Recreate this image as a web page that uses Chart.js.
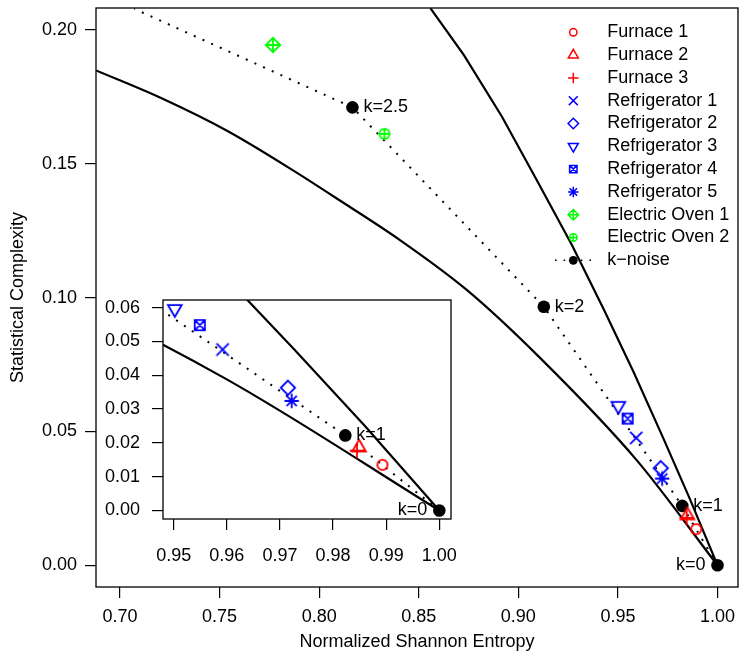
<!DOCTYPE html>
<html>
<head>
<meta charset="utf-8">
<script src="https://cdn.jsdelivr.net/npm/chart.js@4.4.1/dist/chart.umd.min.js"></script>
<style>
  html, body { margin: 0; padding: 0; background: #fff; }
  #wrap { position: relative; width: 739px; height: 659px; }
  #main { position: absolute; left: 0; top: 0; }
  #inset { position: absolute; left: 96px; top: 290px; }
</style>
</head>
<body>
<div id="wrap">
  <canvas id="main" width="739" height="659"></canvas>
  <canvas id="inset" width="370" height="280"></canvas>
</div>
<script>
// Axis ticks
const entropyTicks = [0.70, 0.75, 0.80, 0.85, 0.90, 0.95, 1.00];
const complexityTicks = [0.00, 0.05, 0.10, 0.15, 0.20];
const zoomEntropyTicks = [0.95, 0.96, 0.97, 0.98, 0.99, 1.00];
const zoomComplexityTicks = [0.00, 0.01, 0.02, 0.03, 0.04, 0.05, 0.06];

// Appliance positions in the complexity-entropy plane
const applianceNames = ['Furnace 1', 'Furnace 2', 'Furnace 3',
  'Refrigerator 1', 'Refrigerator 2', 'Refrigerator 3', 'Refrigerator 4', 'Refrigerator 5',
  'Electric Oven 1', 'Electric Oven 2'];
const applianceEntropy = [0.9893, 0.9849, 0.9845, 0.9592, 0.9715, 0.9502, 0.9549, 0.9722, 0.7768, 0.8328];
const applianceComplexity = [0.0135, 0.0186, 0.0177, 0.0476, 0.0363, 0.0596, 0.0548, 0.0324, 0.1944, 0.1612];

// R plotting symbols and colours per appliance
const applianceSymbols = [1, 2, 3, 4, 5, 6, 7, 8, 9, 10];
const applianceColors = ['#ff0000', '#ff0000', '#ff0000',
  '#0000ff', '#0000ff', '#0000ff', '#0000ff', '#0000ff', '#00ff00', '#00ff00'];

// k-noise reference path (last vertex has no marker)
const kLabels = ['k=0', 'k=1', 'k=2', 'k=2.5'];
const kEntropy = [1.0000, 0.9823, 0.9128, 0.8167, 0.7072];
const kComplexity = [0.0000, 0.0222, 0.0966, 0.1711, 0.2079];

// Minimum and maximum complexity bounds
const minEntropy = [0.6880, 0.7209, 0.7544, 0.7879, 0.8079, 0.8406, 0.8741, 0.9109, 0.9594, 1.0000];
const minComplexity = [0.1849, 0.1745, 0.1621, 0.1471, 0.1375, 0.1215, 0.1029, 0.0775, 0.0393, 0.0000];
const maxEntropy = [0.8559, 0.8726, 0.8918, 0.9097, 0.9269, 0.9428, 0.9578, 0.9727, 0.9860, 1.0000];
const maxComplexity = [0.2081, 0.1907, 0.1676, 0.1433, 0.1197, 0.0958, 0.0723, 0.0476, 0.0250, 0.0000];

const FONT = "'Liberation Sans', Arial, Helvetica, sans-serif";
const DATA_UNIT = 5.1;
const LEGEND_UNIT = 3.7;

function toPoints(xs, ys) {
  return ys.map((y, i) => ({ x: xs[i], y }));
}

// R-style point symbols (pch 1-10)
function drawSymbol(ctx, pch, x, y, u, color, lw) {
  const d = Math.SQRT2 * u;
  const r = 1.5551 * u, tx = 1.3468 * u, ty = 0.7776 * u;
  ctx.save();
  ctx.strokeStyle = color;
  ctx.fillStyle = color;
  ctx.lineWidth = lw;
  ctx.beginPath();
  const plus = (a) => { ctx.moveTo(x - a, y); ctx.lineTo(x + a, y); ctx.moveTo(x, y - a); ctx.lineTo(x, y + a); };
  const times = (a) => { ctx.moveTo(x - a, y - a); ctx.lineTo(x + a, y + a); ctx.moveTo(x - a, y + a); ctx.lineTo(x + a, y - a); };
  const diamond = (a) => { ctx.moveTo(x, y - a); ctx.lineTo(x + a, y); ctx.lineTo(x, y + a); ctx.lineTo(x - a, y); ctx.closePath(); };
  switch (pch) {
    case 1: ctx.arc(x, y, u, 0, 2 * Math.PI); break;
    case 2: ctx.moveTo(x, y - r); ctx.lineTo(x + tx, y + ty); ctx.lineTo(x - tx, y + ty); ctx.closePath(); break;
    case 3: plus(d); break;
    case 4: times(1.2 * u); break;
    case 5: diamond(d); break;
    case 6: ctx.moveTo(x, y + r); ctx.lineTo(x + tx, y - ty); ctx.lineTo(x - tx, y - ty); ctx.closePath(); break;
    case 7: ctx.rect(x - u, y - u, 2 * u, 2 * u); times(u); break;
    case 8: times(u); plus(d); break;
    case 9: diamond(d); plus(d); break;
    case 10: ctx.arc(x, y, u, 0, 2 * Math.PI); ctx.moveTo(x - u, y); ctx.lineTo(x + u, y); ctx.moveTo(x, y - u); ctx.lineTo(x, y + u); break;
  }
  ctx.stroke();
  ctx.restore();
}

function symbolImage(pch, color, u) {
  const size = 2 * Math.ceil(1.6 * u + 3);
  const c = document.createElement('canvas');
  c.width = size;
  c.height = size;
  drawSymbol(c.getContext('2d'), pch, size / 2, size / 2, u, color, 1.8);
  return c;
}

function buildDatasets() {
  const sets = applianceNames.map((name, i) => ({
    label: name,
    data: [{ x: applianceEntropy[i], y: applianceComplexity[i] }],
    showLine: false,
    pointStyle: symbolImage(applianceSymbols[i], applianceColors[i], DATA_UNIT),
    pointRadius: 5,
  }));
  sets.push({
    label: 'k\u2212noise',
    isNoise: true,
    data: toPoints(kEntropy, kComplexity),
    showLine: true,
    borderColor: '#000',
    borderWidth: 2,
    borderDash: [2, 7.5],
    pointStyle: 'circle',
    pointRadius: kEntropy.map((_, i) => (i < kLabels.length ? 6.3 : 0)),
    pointBackgroundColor: '#000',
    pointBorderWidth: 0,
  });
  sets.push({
    label: 'min',
    data: toPoints(minEntropy, minComplexity),
    showLine: true,
    borderColor: '#000',
    borderWidth: 2.2,
    cubicInterpolationMode: 'monotone',
    pointRadius: 0,
  });
  sets.push({
    label: 'max',
    data: toPoints(maxEntropy, maxComplexity),
    showLine: true,
    borderColor: '#000',
    borderWidth: 2.2,
    tension: 0,
    pointRadius: 0,
  });
  return sets;
}

// Frame around the plotting region
const boxPlugin = {
  id: 'box',
  afterDatasetsDraw(chart) {
    const { ctx, chartArea: a } = chart;
    ctx.save();
    ctx.strokeStyle = '#000';
    ctx.lineWidth = 1.3;
    ctx.strokeRect(a.left, a.top, a.right - a.left, a.bottom - a.top);
    ctx.restore();
  },
};

// k value labels beside the noise points
const kLabelPlugin = {
  id: 'kLabels',
  afterDatasetsDraw(chart) {
    const idx = chart.data.datasets.findIndex(ds => ds.isNoise);
    const meta = chart.getDatasetMeta(idx);
    const { ctx, chartArea: a } = chart;
    ctx.save();
    ctx.font = '18px ' + FONT;
    ctx.fillStyle = '#000';
    ctx.textBaseline = 'middle';
    kLabels.forEach((txt, i) => {
      const pt = meta.data[i];
      if (pt.x < a.left || pt.x > a.right || pt.y < a.top || pt.y > a.bottom) return;
      if (i === 0) {
        ctx.textAlign = 'right';
        ctx.fillText(txt, pt.x - 12, pt.y);
      } else {
        ctx.textAlign = 'left';
        ctx.fillText(txt, pt.x + 11, pt.y);
      }
    });
    ctx.restore();
  },
};

// Legend in the upper right corner
const legendPlugin = {
  id: 'rLegend',
  afterDraw(chart) {
    const ctx = chart.ctx;
    const symX = 573.3, textX = 607.3, rowY = 32.3, step = 22.8;
    ctx.save();
    ctx.font = '18px ' + FONT;
    ctx.fillStyle = '#000';
    ctx.textBaseline = 'middle';
    ctx.textAlign = 'left';
    applianceNames.forEach((name, i) => {
      const y = rowY + i * step;
      drawSymbol(ctx, applianceSymbols[i], symX, y, LEGEND_UNIT, applianceColors[i], 1.5);
      ctx.fillText(name, textX, y);
    });
    const y = rowY + applianceNames.length * step;
    ctx.save();
    ctx.strokeStyle = '#000';
    ctx.lineWidth = 1.6;
    ctx.setLineDash([1.6, 7]);
    ctx.beginPath();
    ctx.moveTo(555, y);
    ctx.lineTo(592, y);
    ctx.stroke();
    ctx.restore();
    ctx.beginPath();
    ctx.arc(symX, y, 4.4, 0, 2 * Math.PI);
    ctx.fill();
    ctx.fillText('k\u2212noise', textX, y);
    ctx.restore();
  },
};

const whiteBg = {
  id: 'whiteBg',
  beforeDraw(chart) {
    const ctx = chart.ctx;
    ctx.save();
    ctx.fillStyle = '#fff';
    ctx.fillRect(0, 0, chart.width, chart.height);
    ctx.restore();
  },
};

function axis(opts) {
  const scale = {
    type: 'linear',
    min: opts.min,
    max: opts.max,
    afterBuildTicks: (s) => { s.ticks = opts.ticks.map(v => ({ value: v })); },
    afterFit: (s) => {
      // fixed axis size, and no extra room reserved for edge labels
      if (opts.width !== undefined) s.width = opts.width;
      if (opts.height !== undefined) s.height = opts.height;
      s.paddingTop = 0;
      s.paddingBottom = 0;
      s.paddingLeft = 0;
      s.paddingRight = 0;
    },
    ticks: {
      autoSkip: false,
      maxRotation: 0,
      minRotation: 0,
      padding: opts.padding,
      color: '#000',
      font: { family: FONT, size: 18 },
      callback: (v) => Number(v).toFixed(2),
    },
    grid: {
      drawOnChartArea: false,
      drawTicks: true,
      tickLength: 11,
      color: '#000',
      lineWidth: 1.2,
    },
    border: { display: false },
  };
  if (opts.title) {
    scale.title = {
      display: true,
      text: opts.title,
      color: '#000',
      font: { family: FONT, size: 18 },
      padding: opts.titlePadding,
    };
  }
  return scale;
}

new Chart(document.getElementById('main'), {
  type: 'scatter',
  data: { datasets: buildDatasets() },
  options: {
    responsive: false,
    animation: false,
    events: [],
    layout: { autoPadding: false, padding: { left: 0, top: 8, right: 1, bottom: 0 } },
    plugins: { legend: { display: false }, tooltip: { enabled: false } },
    scales: {
      x: axis({ min: 0.68795, max: 1.01029, ticks: entropyTicks, height: 72, padding: 8,
        title: 'Normalized Shannon Entropy', titlePadding: { top: 0, bottom: 6 } }),
      y: axis({ min: -0.00811, max: 0.20822, ticks: complexityTicks, width: 96, padding: 8,
        title: 'Statistical Complexity', titlePadding: { top: 7, bottom: 0 } }),
    },
  },
  plugins: [whiteBg, boxPlugin, kLabelPlugin, legendPlugin],
});

new Chart(document.getElementById('inset'), {
  type: 'scatter',
  data: { datasets: buildDatasets() },
  options: {
    responsive: false,
    animation: false,
    events: [],
    layout: { autoPadding: false, padding: { left: 0, top: 10, right: 15, bottom: 0 } },
    plugins: { legend: { display: false }, tooltip: { enabled: false } },
    scales: {
      x: axis({ min: 0.94798, max: 1.0022, ticks: zoomEntropyTicks, height: 51, padding: 15 }),
      y: axis({ min: -0.00251, max: 0.06224, ticks: zoomComplexityTicks, width: 67, padding: 12 }),
    },
  },
  plugins: [boxPlugin, kLabelPlugin],
});
</script>
</body>
</html>
